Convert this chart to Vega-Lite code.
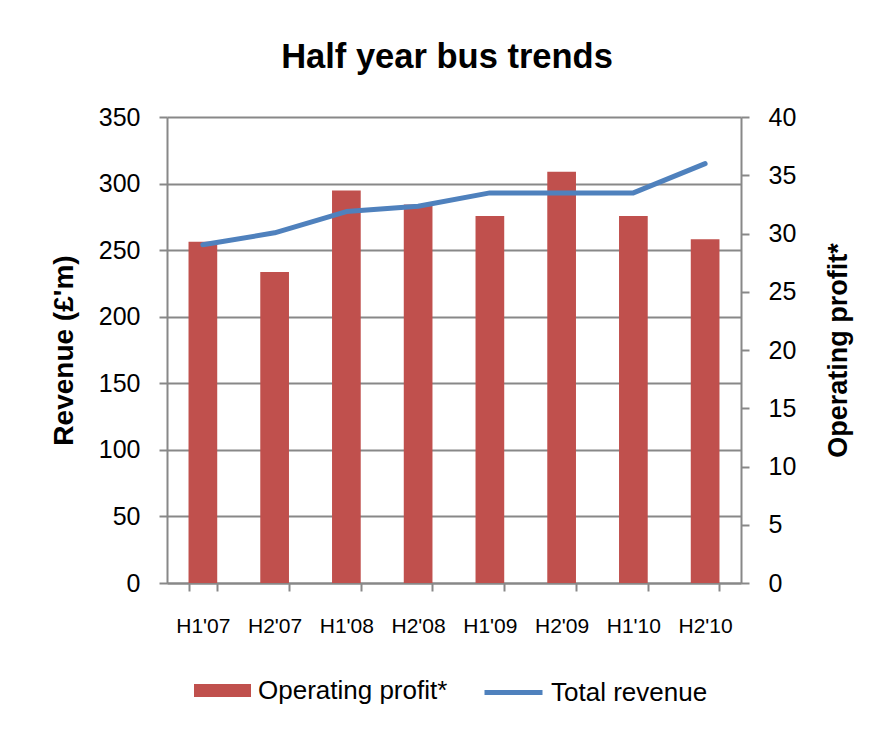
{
  "$schema": "https://vega.github.io/schema/vega-lite/v6.json",
  "width": 574,
  "height": 466,
  "autosize": {"type": "none"},
  "padding": {"left": 167, "top": 117, "right": 134, "bottom": 148},
  "background": "white",
  "config": {
    "view": {"stroke": null},
    "font": "Liberation Sans",
    "axis": {"labelFont": "Liberation Sans", "titleFont": "Liberation Sans", "labelColor": "black", "titleColor": "black"}
  },
  "title": {
    "text": "Half year bus trends",
    "fontSize": 34.5,
    "fontWeight": "bold",
    "font": "Liberation Sans",
    "color": "black",
    "anchor": "middle",
    "frame": "group",
    "baseline": "alphabetic",
    "offset": 3,
    "dx": -7
  },
  "data": {
    "values": [
      {"half": "H1'07", "revenue": 254, "profit": 29.3},
      {"half": "H2'07", "revenue": 263, "profit": 26.7},
      {"half": "H1'08", "revenue": 279, "profit": 33.7},
      {"half": "H2'08", "revenue": 283, "profit": 32.5},
      {"half": "H1'09", "revenue": 293, "profit": 31.5},
      {"half": "H2'09", "revenue": 293, "profit": 35.3},
      {"half": "H1'10", "revenue": 293, "profit": 31.5},
      {"half": "H2'10", "revenue": 315, "profit": 29.5}
    ]
  },
  "encoding": {
    "x": {
      "field": "half",
      "type": "nominal",
      "sort": null,
      "scale": {"paddingInner": 0.6, "paddingOuter": 0.3},
      "axis": {
        "title": null,
        "labelAngle": 0,
        "labelFontSize": 21,
        "labelPadding": 24,
        "tickBand": "extent",
        "tickSize": 8,
        "tickColor": "#888888",
        "tickWidth": 2,
        "domainColor": "#888888",
        "domainWidth": 2,
        "grid": false
      }
    }
  },
  "layer": [
    {
      "mark": {"type": "bar"},
      "encoding": {
        "y": {
          "field": "profit",
          "type": "quantitative",
          "scale": {"domain": [0, 40], "nice": false},
          "axis": {
            "orient": "right",
            "title": "Operating profit*",
            "titleFontSize": 27,
            "titleFontWeight": "bold",
            "titleAngle": 270,
            "titlePadding": 57,
            "values": [0, 5, 10, 15, 20, 25, 30, 35, 40],
            "labelFontSize": 25,
            "labelPadding": 19,
            "tickSize": 8,
            "tickColor": "#888888",
            "tickWidth": 2,
            "domainColor": "#888888",
            "domainWidth": 2,
            "grid": false
          }
        },
        "color": {
          "datum": "Operating profit*",
          "type": "nominal",
          "scale": {"domain": ["Operating profit*"], "range": ["#C0504D"]},
          "legend": {
            "title": null,
            "orient": "none",
            "legendX": 26,
            "legendY": 544,
            "padding": 0,
            "symbolType": "M-1,-0.228H1V0.228H-1Z",
            "symbolSize": 3249,
            "symbolOpacity": 1,
            "labelFontSize": 26,
            "labelFont": "Liberation Sans",
            "labelColor": "black",
            "labelOffset": 6,
            "labelLimit": 400
          }
        }
      }
    },
    {
      "mark": {"type": "line", "strokeWidth": 5, "strokeCap": "round", "strokeJoin": "round"},
      "encoding": {
        "y": {
          "field": "revenue",
          "type": "quantitative",
          "scale": {"domain": [0, 350], "nice": false},
          "axis": {
            "orient": "left",
            "title": "Revenue (£'m)",
            "titleFontSize": 28,
            "titleFontWeight": "bold",
            "titlePadding": 20,
            "values": [0, 50, 100, 150, 200, 250, 300, 350],
            "labelFontSize": 25,
            "labelPadding": 19,
            "tickSize": 8,
            "tickColor": "#888888",
            "tickWidth": 2,
            "domainColor": "#888888",
            "domainWidth": 2,
            "grid": true,
            "gridColor": "#888888",
            "gridWidth": 2
          }
        },
        "stroke": {
          "datum": "Total revenue",
          "type": "nominal",
          "scale": {"domain": ["Total revenue"], "range": ["#4F81BD"]},
          "legend": {
            "title": null,
            "orient": "none",
            "legendX": 315,
            "legendY": 544,
            "padding": 0,
            "symbolType": "stroke",
            "symbolSize": 3364,
            "symbolStrokeWidth": 5,
            "labelFontSize": 26,
            "labelFont": "Liberation Sans",
            "labelColor": "black",
            "labelOffset": 6,
            "labelLimit": 400
          }
        }
      }
    }
  ],
  "resolve": {"scale": {"y": "independent"}}
}
